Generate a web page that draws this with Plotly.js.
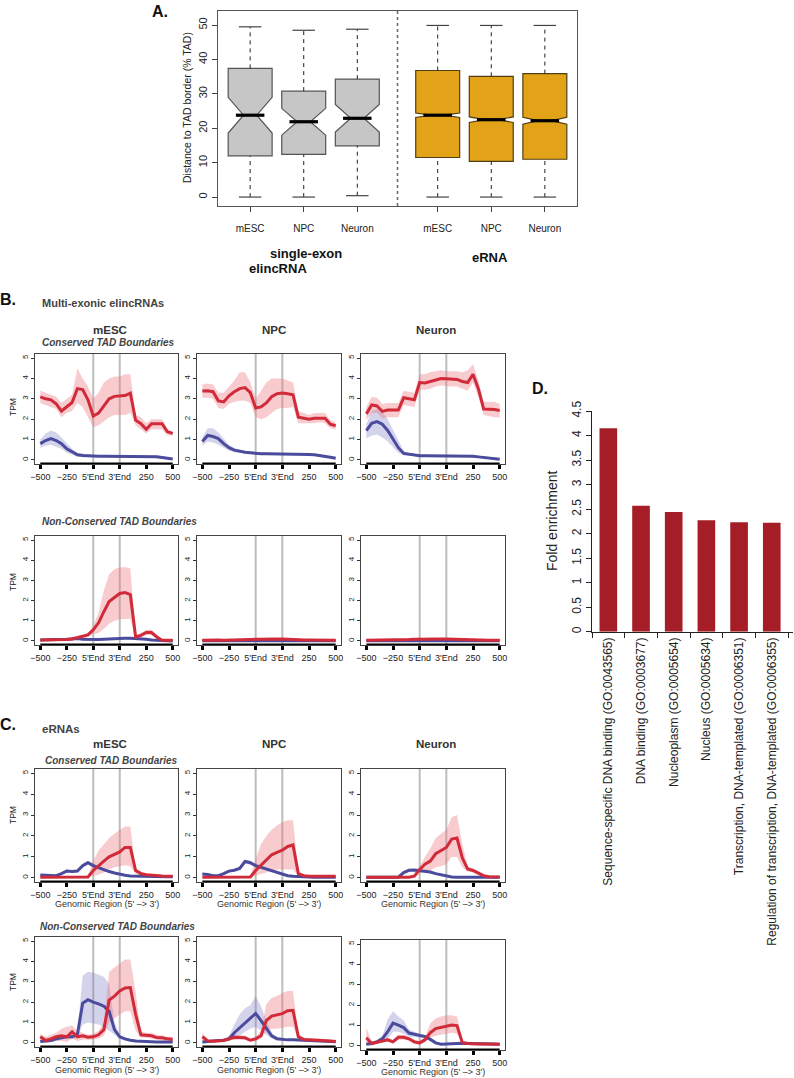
<!DOCTYPE html>
<html>
<head>
<meta charset="utf-8">
<script src="https://cdn.plot.ly/plotly-3.0.1.min.js"></script>
<style>html,body{margin:0;padding:0;background:#fff;}#chart{width:794px;height:1078px;}</style>
</head>
<body>
<div id="chart"></div>
<script>
// ---------------- DATA ----------------
// Panel A: distance to TAD border (% TAD)
const boxCategories = ['mESC','NPC','Neuron','mESC','NPC','Neuron'];
const boxPositions = [1, 2, 3, 4.5, 5.5, 6.5];
const boxQ1     = [12.0, 12.4, 14.9, 11.5, 10.4, 11.0];
const boxMedian = [23.8, 21.9, 22.9, 23.8, 22.5, 22.2];
const boxQ3     = [37.4, 30.8, 34.3, 36.8, 35.1, 35.9];
const boxLow    = [0.0, 0.0, 0.4, 0.0, 0.0, 0.0];
const boxHigh   = [49.5, 48.5, 48.8, 49.9, 49.9, 49.9];
const boxNotch  = [5.2, 3.9, 4.0, 0.65, 0.8, 1.0];

// Panels B and C: metagene profiles (TPM); x = -500, -250, 5'End, 3'End, 250, 500 mapped to 0..5
const X = [0,0.2,0.4,0.6,0.8,1,1.2,1.4,1.6,1.8,2,2.2,2.4,2.6,2.8,3,3.2,3.4,3.6,3.8,4,4.2,4.4,4.6,4.8,5];
const xTickVals = [0,1,2,3,4,5];
const xTickText = ['\u2212500','\u2212250',"5'End","3'End",'250','500'];

// B: multi-exonic elincRNAs, conserved TAD boundaries
const bConsESC_red    = [3.1,3.0,2.95,2.75,2.4,2.62,2.82,3.5,3.45,2.95,2.15,2.3,2.65,3.0,3.12,3.15,3.16,3.28,1.95,1.78,1.5,1.78,1.78,1.78,1.38,1.3];
const bConsESC_redHi  = [3.4,3.3,3.2,3.1,2.8,3.0,3.2,4.5,4.0,3.6,3.0,3.3,3.8,4.0,4.1,4.1,4.2,4.2,2.2,2.1,1.8,2.0,2.0,2.0,1.5,1.4];
const bConsESC_redLo  = [2.8,2.7,2.6,2.5,2.1,2.3,2.4,2.8,2.6,2.1,1.6,1.7,1.9,2.1,2.2,2.2,2.2,2.3,1.7,1.5,1.3,1.5,1.5,1.5,1.2,1.2];
const bConsESC_blue   = [0.8,0.95,1.05,0.95,0.8,0.55,0.4,0.25,0.22,0.2,0.18,0.18,0.18,0.18,0.18,0.18,0.18,0.18,0.18,0.18,0.18,0.16,0.15,0.12,0.08,0.05];
const bConsESC_blueHi = [1.0,1.3,1.45,1.35,1.1,0.8,0.55,0.35,0.3,0.26,0.23,0.23,0.23,0.23,0.23,0.23,0.23,0.23,0.23,0.23,0.23,0.21,0.2,0.17,0.13,0.1];
const bConsESC_blueLo = [0.6,0.7,0.75,0.65,0.55,0.35,0.25,0.15,0.15,0.14,0.13,0.13,0.13,0.13,0.13,0.13,0.13,0.13,0.13,0.13,0.13,0.11,0.1,0.07,0.04,0.01];

const bConsNPC_red    = [3.38,3.4,3.35,2.9,2.85,3.15,3.35,3.5,3.55,3.3,2.55,2.6,2.8,3.1,3.25,3.28,3.25,3.2,2.1,2.05,2.0,2.05,2.05,2.05,1.75,1.68];
const bConsNPC_redHi  = [3.7,3.75,3.7,3.3,3.3,3.6,3.9,4.3,4.3,3.8,3.0,3.4,3.8,4.0,4.0,4.0,3.9,3.8,2.4,2.3,2.2,2.3,2.3,2.3,1.95,1.85];
const bConsNPC_redLo  = [3.05,3.05,3.0,2.55,2.5,2.75,2.85,2.9,2.9,2.8,2.1,2.0,2.1,2.3,2.5,2.55,2.55,2.6,1.8,1.8,1.8,1.8,1.85,1.8,1.55,1.5];
const bConsNPC_blue   = [0.9,1.2,1.15,1.05,0.8,0.6,0.48,0.42,0.38,0.35,0.32,0.3,0.3,0.3,0.3,0.3,0.3,0.3,0.3,0.28,0.27,0.25,0.22,0.18,0.13,0.08];
const bConsNPC_blueHi = [1.1,1.55,1.55,1.35,1.05,0.75,0.58,0.5,0.44,0.4,0.37,0.35,0.35,0.35,0.35,0.35,0.35,0.35,0.35,0.33,0.32,0.3,0.27,0.23,0.18,0.13];
const bConsNPC_blueLo = [0.7,0.9,0.85,0.75,0.6,0.45,0.38,0.35,0.32,0.3,0.28,0.26,0.26,0.26,0.26,0.26,0.26,0.26,0.26,0.24,0.23,0.21,0.18,0.14,0.09,0.04];

const bConsNeu_red    = [2.26,2.7,2.65,2.38,2.45,2.45,2.45,3.05,3.0,2.95,3.8,3.78,3.85,3.92,4.0,3.98,3.95,3.95,3.85,3.8,4.2,3.5,2.5,2.5,2.48,2.43];
const bConsNeu_redHi  = [2.6,3.1,3.05,2.75,2.8,2.8,2.8,3.4,3.35,3.3,4.2,4.2,4.3,4.35,4.4,4.35,4.35,4.35,4.3,4.4,4.7,3.9,2.85,2.85,2.85,2.75];
const bConsNeu_redLo  = [1.95,2.3,2.3,2.05,2.1,2.1,2.1,2.7,2.65,2.6,3.45,3.45,3.5,3.6,3.65,3.62,3.6,3.6,3.5,3.4,3.8,3.1,2.2,2.15,2.1,2.1];
const bConsNeu_blue   = [1.44,1.8,1.88,1.75,1.45,1.05,0.6,0.32,0.27,0.24,0.2,0.2,0.2,0.2,0.2,0.2,0.2,0.2,0.2,0.2,0.18,0.15,0.12,0.1,0.07,0.03];
const bConsNeu_blueHi = [1.75,2.4,2.5,2.35,2.0,1.5,0.95,0.45,0.33,0.29,0.25,0.25,0.25,0.25,0.25,0.25,0.25,0.25,0.25,0.25,0.23,0.2,0.17,0.15,0.12,0.08];
const bConsNeu_blueLo = [1.05,1.2,1.25,1.1,0.9,0.65,0.35,0.22,0.22,0.2,0.16,0.16,0.16,0.16,0.16,0.16,0.16,0.16,0.16,0.16,0.14,0.11,0.08,0.06,0.03,0.0];

// B: multi-exonic elincRNAs, non-conserved TAD boundaries
const bNonESC_red    = [0.05,0.05,0.05,0.05,0.06,0.07,0.1,0.16,0.22,0.3,0.55,0.9,1.45,1.95,2.15,2.35,2.4,2.3,0.2,0.28,0.42,0.42,0.2,0.04,0.03,0.03];
const bNonESC_redHi  = [0.1,0.1,0.1,0.1,0.11,0.12,0.18,0.25,0.3,0.4,0.75,1.4,2.5,3.3,3.55,3.65,3.65,3.6,0.3,0.38,0.55,0.55,0.3,0.1,0.08,0.08];
const bNonESC_redLo  = [0.0,0.0,0.0,0.0,0.01,0.02,0.04,0.08,0.12,0.2,0.35,0.4,0.6,0.85,1.0,1.08,1.1,1.1,0.12,0.2,0.3,0.3,0.12,0.0,0.0,0.0];
const bNonESC_blue   = [0.05,0.05,0.05,0.06,0.07,0.08,0.1,0.12,0.08,0.07,0.07,0.07,0.08,0.1,0.11,0.12,0.13,0.13,0.12,0.1,0.08,0.05,0.03,0.01,0.0,0.0];
const bNonESC_blueHi = [0.09,0.09,0.09,0.1,0.11,0.12,0.14,0.17,0.12,0.11,0.11,0.11,0.12,0.14,0.15,0.16,0.17,0.17,0.16,0.14,0.12,0.09,0.07,0.05,0.04,0.04];
const bNonESC_blueLo = [0.01,0.01,0.01,0.02,0.03,0.04,0.06,0.07,0.04,0.03,0.03,0.03,0.04,0.06,0.07,0.08,0.09,0.09,0.08,0.06,0.04,0.01,0.0,0.0,0.0,0.0];

const bNonNPC_red    = [0.04,0.05,0.06,0.05,0.04,0.04,0.05,0.05,0.06,0.07,0.08,0.09,0.1,0.1,0.1,0.1,0.09,0.07,0.05,0.05,0.05,0.05,0.05,0.04,0.04,0.04];
const bNonNPC_redHi  = [0.08,0.09,0.1,0.09,0.08,0.08,0.09,0.09,0.1,0.11,0.12,0.14,0.16,0.16,0.16,0.15,0.13,0.11,0.09,0.09,0.09,0.09,0.09,0.08,0.08,0.08];
const bNonNPC_redLo  = [0.01,0.02,0.02,0.02,0.01,0.01,0.02,0.02,0.02,0.03,0.04,0.05,0.05,0.05,0.05,0.05,0.05,0.04,0.02,0.02,0.02,0.02,0.02,0.01,0.01,0.01];
const bNonNPC_blue   = [0.01,0.01,0.01,0.01,0.01,0.01,0.01,0.02,0.02,0.02,0.03,0.03,0.03,0.03,0.03,0.03,0.03,0.02,0.02,0.02,0.01,0.01,0.01,0.01,0.01,0.01];
const bNonNPC_blueHi = [0.03,0.03,0.03,0.03,0.03,0.03,0.03,0.04,0.04,0.04,0.05,0.05,0.05,0.05,0.05,0.05,0.05,0.04,0.04,0.04,0.03,0.03,0.03,0.03,0.03,0.03];
const bNonNPC_blueLo = [0,0,0,0,0,0,0,0,0,0,0.01,0.01,0.01,0.01,0.01,0.01,0.01,0,0,0,0,0,0,0,0,0];

const bNonNeu_red    = [0.04,0.04,0.05,0.05,0.05,0.05,0.06,0.06,0.07,0.08,0.09,0.1,0.11,0.1,0.1,0.1,0.09,0.08,0.06,0.05,0.05,0.05,0.04,0.04,0.04,0.04];
const bNonNeu_redHi  = [0.08,0.08,0.09,0.09,0.09,0.09,0.1,0.1,0.11,0.12,0.14,0.15,0.16,0.15,0.15,0.15,0.13,0.12,0.1,0.09,0.09,0.09,0.08,0.08,0.08,0.08];
const bNonNeu_redLo  = [0.01,0.01,0.02,0.02,0.02,0.02,0.02,0.02,0.03,0.04,0.04,0.05,0.05,0.05,0.05,0.05,0.05,0.04,0.03,0.02,0.02,0.02,0.01,0.01,0.01,0.01];
const bNonNeu_blue   = [0.01,0.01,0.01,0.01,0.01,0.02,0.02,0.02,0.02,0.03,0.03,0.03,0.03,0.03,0.03,0.03,0.03,0.03,0.02,0.02,0.02,0.01,0.01,0.01,0.01,0.01];
const bNonNeu_blueHi = [0.03,0.03,0.03,0.03,0.03,0.04,0.04,0.04,0.04,0.05,0.05,0.05,0.05,0.05,0.05,0.05,0.05,0.05,0.04,0.04,0.04,0.03,0.03,0.03,0.03,0.03];
const bNonNeu_blueLo = [0,0,0,0,0,0,0,0,0,0.01,0.01,0.01,0.01,0.01,0.01,0.01,0.01,0.01,0,0,0,0,0,0,0,0];

// C: eRNAs, conserved TAD boundaries
const cConsESC_red    = [0.03,0.03,0.03,0.03,0.03,0.03,0.03,0.03,0.03,0.04,0.35,0.6,0.8,1.0,1.13,1.24,1.45,1.45,0.35,0.2,0.15,0.12,0.1,0.09,0.08,0.08];
const cConsESC_redHi  = [0.08,0.08,0.08,0.08,0.08,0.08,0.08,0.08,0.08,0.1,0.8,1.3,1.6,1.9,2.1,2.3,2.45,2.45,0.45,0.3,0.22,0.18,0.15,0.14,0.12,0.12];
const cConsESC_redLo  = [0,0,0,0,0,0,0,0,0,0.01,0.1,0.15,0.25,0.4,0.5,0.55,0.6,0.55,0.2,0.1,0.08,0.06,0.05,0.04,0.03,0.03];
const cConsESC_blue   = [0.13,0.13,0.1,0.1,0.2,0.32,0.3,0.32,0.58,0.72,0.58,0.48,0.37,0.3,0.23,0.17,0.12,0.09,0.08,0.07,0.06,0.06,0.05,0.05,0.05,0.05];
const cConsESC_blueHi = [0.17,0.17,0.14,0.14,0.25,0.38,0.36,0.4,0.68,0.82,0.68,0.56,0.44,0.36,0.28,0.21,0.16,0.12,0.11,0.1,0.09,0.09,0.08,0.08,0.08,0.08];
const cConsESC_blueLo = [0.09,0.09,0.06,0.06,0.15,0.26,0.24,0.25,0.48,0.62,0.48,0.4,0.3,0.24,0.18,0.13,0.08,0.06,0.05,0.04,0.03,0.03,0.02,0.02,0.02,0.02];

const cConsNPC_red    = [0.03,0.03,0.03,0.03,0.03,0.03,0.03,0.03,0.03,0.04,0.35,0.6,0.85,1.1,1.22,1.32,1.5,1.57,0.2,0.1,0.08,0.07,0.07,0.07,0.07,0.07];
const cConsNPC_redHi  = [0.08,0.08,0.08,0.08,0.08,0.08,0.08,0.08,0.08,0.1,0.9,1.6,2.0,2.3,2.5,2.65,2.75,2.75,0.3,0.16,0.13,0.12,0.12,0.12,0.12,0.12];
const cConsNPC_redLo  = [0,0,0,0,0,0,0,0,0,0.01,0.1,0.2,0.25,0.35,0.4,0.4,0.4,0.4,0.1,0.04,0.03,0.02,0.02,0.02,0.02,0.02];
const cConsNPC_blue   = [0.18,0.16,0.1,0.1,0.2,0.32,0.36,0.45,0.78,0.72,0.58,0.5,0.42,0.35,0.28,0.21,0.1,0.07,0.05,0.04,0.04,0.03,0.03,0.03,0.03,0.03];
const cConsNPC_blueHi = [0.22,0.2,0.14,0.14,0.25,0.38,0.42,0.53,0.88,0.82,0.67,0.58,0.49,0.41,0.33,0.25,0.13,0.1,0.08,0.07,0.07,0.06,0.06,0.06,0.06,0.06];
const cConsNPC_blueLo = [0.14,0.12,0.06,0.06,0.15,0.26,0.3,0.37,0.68,0.62,0.49,0.42,0.35,0.29,0.23,0.17,0.07,0.04,0.02,0.01,0.01,0,0,0,0,0];

const cConsNeu_red    = [0.03,0.03,0.03,0.03,0.03,0.03,0.03,0.03,0.03,0.08,0.4,0.65,0.8,1.15,1.3,1.45,1.85,1.9,0.95,0.42,0.35,0.22,0.1,0.05,0.04,0.04];
const cConsNeu_redHi  = [0.07,0.07,0.07,0.07,0.07,0.07,0.07,0.07,0.07,0.15,0.6,1.0,1.4,1.9,2.1,2.3,2.9,3.0,1.6,0.55,0.45,0.3,0.15,0.09,0.08,0.08];
const cConsNeu_redLo  = [0,0,0,0,0,0,0,0,0,0.03,0.2,0.35,0.35,0.5,0.55,0.65,1.0,1.0,0.5,0.3,0.25,0.12,0.05,0.01,0,0];
const cConsNeu_blue   = [0.03,0.03,0.03,0.03,0.03,0.03,0.03,0.25,0.36,0.37,0.34,0.32,0.28,0.2,0.14,0.07,0.04,0.03,0.03,0.03,0.03,0.03,0.03,0.03,0.03,0.03];
const cConsNeu_blueHi = [0.05,0.05,0.05,0.05,0.05,0.05,0.05,0.3,0.42,0.43,0.4,0.37,0.33,0.24,0.17,0.1,0.07,0.05,0.05,0.05,0.05,0.05,0.05,0.05,0.05,0.05];
const cConsNeu_blueLo = [0.01,0.01,0.01,0.01,0.01,0.01,0.01,0.2,0.3,0.31,0.28,0.27,0.23,0.16,0.11,0.04,0.02,0.01,0.01,0.01,0.01,0.01,0.01,0.01,0.01,0.01];

// C: eRNAs, non-conserved TAD boundaries
const cNonESC_red    = [0.3,0.12,0.2,0.3,0.35,0.3,0.55,0.3,0.35,0.28,0.3,0.4,0.65,2.1,2.3,2.55,2.7,2.72,1.4,0.4,0.38,0.35,0.26,0.25,0.2,0.17];
const cNonESC_redHi  = [0.45,0.3,0.4,0.5,0.7,0.8,0.85,0.6,0.5,0.4,0.45,0.6,1.0,3.5,3.7,3.9,4.1,4.1,2.5,0.55,0.5,0.5,0.4,0.38,0.3,0.3];
const cNonESC_redLo  = [0.1,0.0,0.05,0.1,0.1,0.05,0.2,0.1,0.15,0.15,0.15,0.2,0.35,1.0,1.2,1.4,1.55,1.55,0.6,0.25,0.25,0.2,0.15,0.12,0.1,0.08];
const cNonESC_blue   = [0.07,0.1,0.12,0.2,0.25,0.3,0.3,0.4,1.95,2.12,2.0,1.92,1.8,1.55,0.65,0.3,0.2,0.13,0.1,0.08,0.06,0.06,0.05,0.05,0.05,0.05];
const cNonESC_blueHi = [0.12,0.2,0.25,0.3,0.35,0.4,0.45,0.55,3.3,3.5,3.45,3.35,3.25,2.9,1.0,0.4,0.25,0.18,0.14,0.11,0.09,0.09,0.08,0.08,0.08,0.08];
const cNonESC_blueLo = [0.02,0.05,0.06,0.1,0.15,0.2,0.2,0.25,0.9,1.0,0.95,0.9,0.8,0.6,0.4,0.2,0.12,0.08,0.06,0.05,0.03,0.03,0.02,0.02,0.02,0.02];

const cNonNPC_red    = [0.3,0.1,0.08,0.1,0.12,0.2,0.28,0.27,0.25,0.13,0.2,0.35,1.1,1.32,1.38,1.44,1.58,1.6,0.3,0.17,0.16,0.15,0.14,0.13,0.1,0.07];
const cNonNPC_redHi  = [0.5,0.2,0.16,0.18,0.2,0.3,0.4,0.38,0.35,0.22,0.3,0.6,1.9,2.2,2.3,2.45,2.55,2.55,0.45,0.26,0.24,0.23,0.22,0.21,0.18,0.14];
const cNonNPC_redLo  = [0.1,0.03,0.02,0.04,0.05,0.1,0.16,0.16,0.15,0.06,0.1,0.2,0.6,0.7,0.7,0.75,0.8,0.8,0.15,0.1,0.09,0.08,0.07,0.06,0.04,0.02];
const cNonNPC_blue   = [0.05,0.08,0.1,0.12,0.13,0.2,0.5,0.75,1.0,1.2,1.45,1.1,0.7,0.35,0.2,0.16,0.15,0.15,0.14,0.13,0.12,0.12,0.11,0.1,0.08,0.06];
const cNonNPC_blueHi = [0.08,0.12,0.14,0.17,0.2,0.35,0.9,1.4,1.7,1.85,2.3,1.8,1.1,0.5,0.3,0.22,0.2,0.2,0.19,0.18,0.17,0.17,0.16,0.15,0.12,0.1];
const cNonNPC_blueLo = [0.02,0.04,0.06,0.08,0.08,0.1,0.25,0.35,0.55,0.7,0.8,0.6,0.4,0.22,0.12,0.1,0.1,0.1,0.09,0.08,0.07,0.07,0.06,0.05,0.04,0.02];

const cNonNeu_red    = [0.4,0.12,0.18,0.25,0.3,0.2,0.42,0.42,0.35,0.2,0.15,0.3,0.65,0.85,0.9,0.97,1.03,1.0,0.16,0.12,0.1,0.1,0.1,0.1,0.1,0.08];
const cNonNeu_redHi  = [0.9,0.2,0.25,0.3,0.4,0.3,0.55,0.55,0.45,0.3,0.25,0.45,1.1,1.35,1.45,1.5,1.5,1.45,0.25,0.2,0.18,0.17,0.16,0.16,0.15,0.13];
const cNonNeu_redLo  = [0.1,0.05,0.1,0.18,0.2,0.12,0.3,0.3,0.25,0.1,0.05,0.18,0.4,0.5,0.55,0.6,0.65,0.6,0.1,0.06,0.05,0.05,0.05,0.05,0.05,0.04];
const cNonNeu_blue   = [0.08,0.12,0.2,0.35,0.7,1.12,1.02,0.9,0.63,0.58,0.5,0.46,0.32,0.15,0.08,0.1,0.12,0.13,0.13,0.12,0.12,0.11,0.1,0.1,0.09,0.08];
const cNonNeu_blueHi = [0.15,0.2,0.3,0.5,1.3,1.7,1.45,1.25,0.8,0.7,0.6,0.55,0.4,0.2,0.12,0.14,0.16,0.17,0.17,0.16,0.16,0.15,0.14,0.14,0.13,0.12];
const cNonNeu_blueLo = [0.02,0.06,0.12,0.2,0.35,0.7,0.7,0.6,0.45,0.45,0.4,0.38,0.25,0.1,0.04,0.06,0.08,0.09,0.09,0.08,0.08,0.07,0.06,0.06,0.05,0.04];

// Panel D: GO enrichment
const goTerms = [
  'Sequence-specific DNA binding (GO:0043565)',
  'DNA binding (GO:0003677)',
  'Nucleoplasm (GO:0005654)',
  'Nucleus (GO:0005634)',
  'Transcription, DNA-templated (GO:0006351)',
  'Regulation of transcription, DNA-templated (GO:0006355)'
];
const foldEnrichment = [4.15, 2.57, 2.44, 2.27, 2.23, 2.22];

// ---------------- LAYOUT HELPERS ----------------
const W = 794, H = 1078;
const FONT = 'Liberation Sans, Arial, Helvetica, sans-serif';
const px = v => v / W;
const py = v => 1 - v / H;

const RED = '#d12a39', BLUE = '#4b4b9d';
const RED_BAND = 'rgba(236,112,122,0.36)', BLUE_BAND = 'rgba(118,118,196,0.32)';

const colPx = [[35,178],[197,341],[361,505]];
const rowPx = [[354,464],[536,645],[769,882],[937,1047]];

const panels = [
  {c:0,r:0,d:[bConsESC_red,bConsESC_redLo,bConsESC_redHi,bConsESC_blue,bConsESC_blueLo,bConsESC_blueHi]},
  {c:1,r:0,d:[bConsNPC_red,bConsNPC_redLo,bConsNPC_redHi,bConsNPC_blue,bConsNPC_blueLo,bConsNPC_blueHi]},
  {c:2,r:0,d:[bConsNeu_red,bConsNeu_redLo,bConsNeu_redHi,bConsNeu_blue,bConsNeu_blueLo,bConsNeu_blueHi]},
  {c:0,r:1,d:[bNonESC_red,bNonESC_redLo,bNonESC_redHi,bNonESC_blue,bNonESC_blueLo,bNonESC_blueHi]},
  {c:1,r:1,d:[bNonNPC_red,bNonNPC_redLo,bNonNPC_redHi,bNonNPC_blue,bNonNPC_blueLo,bNonNPC_blueHi]},
  {c:2,r:1,d:[bNonNeu_red,bNonNeu_redLo,bNonNeu_redHi,bNonNeu_blue,bNonNeu_blueLo,bNonNeu_blueHi]},
  {c:0,r:2,d:[cConsESC_red,cConsESC_redLo,cConsESC_redHi,cConsESC_blue,cConsESC_blueLo,cConsESC_blueHi]},
  {c:1,r:2,d:[cConsNPC_red,cConsNPC_redLo,cConsNPC_redHi,cConsNPC_blue,cConsNPC_blueLo,cConsNPC_blueHi]},
  {c:2,r:2,d:[cConsNeu_red,cConsNeu_redLo,cConsNeu_redHi,cConsNeu_blue,cConsNeu_blueLo,cConsNeu_blueHi]},
  {c:0,r:3,d:[cNonESC_red,cNonESC_redLo,cNonESC_redHi,cNonESC_blue,cNonESC_blueLo,cNonESC_blueHi]},
  {c:1,r:3,d:[cNonNPC_red,cNonNPC_redLo,cNonNPC_redHi,cNonNPC_blue,cNonNPC_blueLo,cNonNPC_blueHi]},
  {c:2,r:3,d:[cNonNeu_red,cNonNeu_redLo,cNonNeu_redHi,cNonNeu_blue,cNonNeu_blueLo,cNonNeu_blueHi], dy:3}
];

const traces = [];
const layout = {
  width: W, height: H, margin: {l:0,r:0,t:0,b:0},
  paper_bgcolor: '#fff', plot_bgcolor: 'rgba(0,0,0,0)',
  showlegend: false, hovermode: false, bargap: 0.46,
  font: {family: FONT, color: '#222'},
  shapes: [], annotations: []
};
const axName = (k, n) => k + 'axis' + (n === 1 ? '' : n);

function band(n, lo, hi, color) {
  const xr = X.slice().reverse();
  traces.push({type:'scatter', mode:'lines', x: X.concat(xr), y: hi.concat(lo.slice().reverse()),
    fill:'toself', fillcolor: color, line:{width:0}, xaxis:'x'+n, yaxis:'y'+n, hoverinfo:'skip'});
}
function line(n, y, color) {
  traces.push({type:'scatter', mode:'lines', x: X, y: y, line:{color: color, width: 3}, xaxis:'x'+n, yaxis:'y'+n, hoverinfo:'skip'});
}

panels.forEach((p, i) => {
  const n = i + 1;
  const [l, r] = colPx[p.c];
  let [t, b] = rowPx[p.r];
  if (p.dy) { t += p.dy; b += p.dy; }
  const [red, redLo, redHi, blue, blueLo, blueHi] = p.d;
  band(n, blueLo, blueHi, BLUE_BAND);
  band(n, redLo, redHi, RED_BAND);
  line(n, blue, BLUE);
  line(n, red, RED);
  layout[axName('x', n)] = {
    domain: [px(l), px(r)], range: [-0.2, 5.2], anchor: 'y'+n,
    tickmode: 'array', tickvals: xTickVals, ticktext: xTickText,
    ticks: 'outside', ticklen: 4, tickwidth: 3, tickcolor: '#000',
    tickfont: {size: 9, color: '#222'},
    showline: true, mirror: true, linecolor: '#444', linewidth: 1,
    showgrid: false, zeroline: false, fixedrange: true
  };
  layout[axName('y', n)] = {
    domain: [py(b), py(t)], range: [-0.2, 5.2], anchor: 'x'+n,
    tickmode: 'array', tickvals: [0,1,2,3,4,5],
    ticks: 'outside', ticklen: 3, tickwidth: 1, tickcolor: '#333',
    tickangle: -90, tickfont: {size: 8, color: '#222'},
    showline: true, mirror: true, linecolor: '#444', linewidth: 1,
    showgrid: false, zeroline: false, fixedrange: true
  };
  // 5'End and 3'End guide lines
  [2, 3].forEach(v => layout.shapes.push({type:'line', xref:'x'+n, yref:'y'+n, x0:v, x1:v, y0:-0.2, y1:5.2,
    line:{color:'#bdbdbd', width:2}, layer:'below'}));
  // thick R-style bottom axis from first to last tick
  layout.shapes.push({type:'line', xref:'x'+n, yref:'y'+n, x0:0, x1:5, y0:-0.2, y1:-0.2, line:{color:'#000', width:3}});
});

// ---------------- PANEL A (boxplots) ----------------
const nA = 13;
traces.push({
  type:'box', x: boxPositions.slice(0,3), q1: boxQ1.slice(0,3), median: boxMedian.slice(0,3), q3: boxQ3.slice(0,3),
  lowerfence: boxQ1.slice(0,3), upperfence: boxQ3.slice(0,3), notched: true, notchspan: boxNotch.slice(0,3),
  notchwidth: 0.35, width: 0.82, whiskerwidth: 0, boxpoints: false,
  fillcolor: '#c6c6c6', line: {color:'#555', width:1.2}, xaxis:'x'+nA, yaxis:'y'+nA, hoverinfo:'skip'
});
traces.push({
  type:'box', x: boxPositions.slice(3), q1: boxQ1.slice(3), median: boxMedian.slice(3), q3: boxQ3.slice(3),
  lowerfence: boxQ1.slice(3), upperfence: boxQ3.slice(3), notched: true, notchspan: boxNotch.slice(3),
  notchwidth: 0.35, width: 0.82, whiskerwidth: 0, boxpoints: false,
  fillcolor: '#e2a318', line: {color:'#4f3f16', width:1.2}, xaxis:'x'+nA, yaxis:'y'+nA, hoverinfo:'skip'
});
// dashed whiskers, caps, thick medians
const wx = [], wy = [], cx = [], cy = [], mx = [], my = [];
boxPositions.forEach((p, i) => {
  wx.push(p, p, null, p, p, null); wy.push(boxLow[i], boxQ1[i], null, boxQ3[i], boxHigh[i], null);
  cx.push(p - 0.21, p + 0.21, null, p - 0.21, p + 0.21, null); cy.push(boxLow[i], boxLow[i], null, boxHigh[i], boxHigh[i], null);
  mx.push(p - 0.266, p + 0.266, null); my.push(boxMedian[i], boxMedian[i], null);
});
traces.push({type:'scatter', mode:'lines', x: wx, y: wy, line:{color:'#222', width:1, dash:'4px,4px'}, xaxis:'x'+nA, yaxis:'y'+nA, hoverinfo:'skip'});
traces.push({type:'scatter', mode:'lines', x: cx, y: cy, line:{color:'#444', width:1.2}, xaxis:'x'+nA, yaxis:'y'+nA, hoverinfo:'skip'});
traces.push({type:'scatter', mode:'lines', x: mx, y: my, line:{color:'#000', width:3.2}, xaxis:'x'+nA, yaxis:'y'+nA, hoverinfo:'skip'});

layout[axName('x', nA)] = {
  domain: [px(218), px(577)], range: [0.4, 7.1], anchor: 'y'+nA,
  tickmode: 'array', tickvals: boxPositions, ticktext: boxCategories,
  ticks: 'outside', ticklen: 5, tickcolor: '#444', tickfont: {size: 10, color: '#222'}, ticklabelstandoff: 8,
  showline: true, mirror: true, linecolor: '#555', linewidth: 1.2, showgrid: false, zeroline: false, fixedrange: true
};
layout[axName('y', nA)] = {
  domain: [py(206), py(11)], range: [-2.6, 54.1], anchor: 'x'+nA,
  tickmode: 'array', tickvals: [0,10,20,30,40,50], tickangle: -90,
  ticks: 'outside', ticklen: 5, tickcolor: '#444', tickfont: {size: 11, color: '#222'},
  showline: true, mirror: true, linecolor: '#555', linewidth: 1.2, showgrid: false, zeroline: false, fixedrange: true
};
layout.shapes.push({type:'line', xref:'x'+nA, yref:'y'+nA+' domain', x0:3.75, x1:3.75, y0:0, y1:1,
  line:{color:'#666', width:1.5, dash:'dot'}});

// ---------------- PANEL D (bars) ----------------
const nD = 14;
traces.push({type:'bar', x: goTerms, y: foldEnrichment, marker:{color:'#a51e27'}, xaxis:'x'+nD, yaxis:'y'+nD, hoverinfo:'skip'});
layout[axName('x', nD)] = {
  domain: [px(592), px(793)], range: [-0.5, 5.65], anchor: 'y'+nD, type: 'category',
  tickangle: -90, ticks: 'outside', tickson: 'boundaries', ticklen: 5, tickcolor: '#222',
  tickfont: {size: 12, color: '#222'}, showline: true, linecolor: '#222', linewidth: 1,
  showgrid: false, zeroline: false, fixedrange: true
};
layout[axName('y', nD)] = {
  domain: [py(631.7), py(411)], range: [0, 4.5], anchor: 'x'+nD,
  tickmode: 'linear', tick0: 0, dtick: 0.5, tickangle: -90,
  ticks: 'outside', ticklen: 5, tickcolor: '#222', tickfont: {size: 12, color: '#222'},
  showline: true, linecolor: '#222', linewidth: 1, showgrid: false, zeroline: false, fixedrange: true
};

// ---------------- TEXT ----------------
function ann(text, x, y, o) {
  o = o || {};
  layout.annotations.push(Object.assign({
    text: text, xref: 'paper', yref: 'paper', x: px(x), y: py(y), showarrow: false,
    xanchor: o.xa || 'center', yanchor: 'middle', textangle: o.angle || 0,
    font: {family: FONT, size: o.size || 11, color: o.color || '#222'}
  }, o.extra || {}));
}
ann('<b>A.</b>', 160, 12, {size: 16, color: '#111'});
ann('Distance to TAD border (% TAD)', 187, 108, {size: 10.5, angle: -90});
ann('<b>single-exon</b>', 306, 253, {size: 13, color: '#111'});
ann('<b>elincRNA</b>', 278, 268, {size: 13, color: '#111'});
ann('<b>eRNA</b>', 490, 257, {size: 13, color: '#111'});

ann('<b>B.</b>', 8, 299, {size: 16, color: '#111'});
ann('<b>Multi-exonic elincRNAs</b>', 40, 303, {size: 11, color: '#444', xa: 'left'});
ann('<b>C.</b>', 8, 724, {size: 16, color: '#111'});
ann('<b>eRNAs</b>', 40, 729, {size: 11.5, color: '#444', xa: 'left'});
ann('<b>D.</b>', 540, 388, {size: 16, color: '#111'});
ann('Fold enrichment', 552, 521, {size: 14, angle: -90});

const headX = [110, 274, 436];
['mESC','NPC','Neuron'].forEach((h, i) => {
  ann('<b>' + h + '</b>', headX[i], 330, {size: 11.5, color: '#333'});
  ann('<b>' + h + '</b>', headX[i], 744, {size: 11.5, color: '#333'});
});
ann('<b><i>Conserved TAD Boundaries</i></b>', 40, 343, {size: 10, color: '#444', xa: 'left'});
ann('<b><i>Non-Conserved TAD Boundaries</i></b>', 40, 521, {size: 10, color: '#444', xa: 'left'});
ann('<b><i>Conserved TAD Boundaries</i></b>', 43, 760, {size: 10, color: '#444', xa: 'left'});
ann('<b><i>Non-Conserved TAD Boundaries</i></b>', 38, 926, {size: 10, color: '#444', xa: 'left'});
[[407],[582],[815],[982]].forEach(v => ann('TPM', 13, v[0], {size: 8.5, angle: -90}));
colPx.forEach((c, i) => {
  const cxp = (c[0] + c[1]) / 2;
  ann("Genomic Region (5' \u2013> 3')", cxp, 904, {size: 9, color: '#333'});
  ann("Genomic Region (5' \u2013> 3')", cxp, i === 2 ? 1072 : 1070, {size: 9, color: '#333'});
});

Plotly.newPlot('chart', traces, layout, {staticPlot: true, displayModeBar: false});
</script>
</body>
</html>
